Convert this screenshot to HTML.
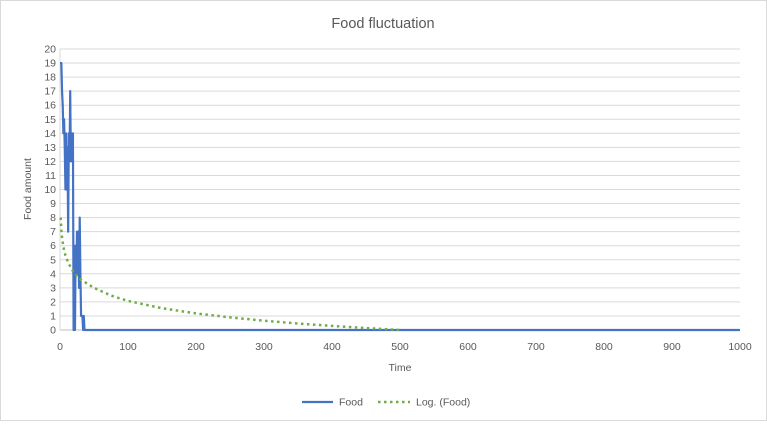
<!DOCTYPE html>
<html><head><meta charset="utf-8"><style>
body{margin:0;background:#fff;}
svg text{font-family:"Liberation Sans",sans-serif;fill:#595959;}
</style></head><body>
<svg id="c" width="767" height="421" viewBox="0 0 767 421">
<rect x="0.5" y="0.5" width="766" height="420" fill="#fff" stroke="#d9d9d9"/>
<text x="383" y="28" font-size="14.5" text-anchor="middle">Food fluctuation</text>
<g id="grid"></g>
<g id="ticks"></g>
<g id="series"></g>
<text x="400" y="371" font-size="10.5" text-anchor="middle">Time</text>
<text transform="translate(31,189) rotate(-90)" font-size="10.5" text-anchor="middle">Food amount</text>
<g>
<g><line x1="302" y1="402" x2="333" y2="402" stroke="#4472C4" stroke-width="2.2"/><text x="339" y="405.5" font-size="10.5">Food</text></g>
<g><line x1="378" y1="402" x2="410" y2="402" stroke="#70AD47" stroke-width="2.5" stroke-dasharray="2.5,3.5"/><text x="416" y="405.5" font-size="10.5">Log. (Food)</text></g>
</g>
</svg>
<script>
const foodTimes=[0,1,2,3,4,5,6,7,8,9,10,11,12,13,14,15,16,17,18,19,20,21,22,23,24,25,26,27,28,29,30,31,32,33,34,35,36,37,1000];
const foodValues=[19,19,19,17,16,14,15,13,10,14,10,13,7,14,12,17,12,14,12,14,0,6,0,6,4,7,4,7,3,8,4,1,1,1,0,1,0,0,0];
const trendTimes=[1,2,3,5,8,12,20,30,50,75,100,150,200,250,300,350,400,450,500];
const trendValues=[8,7.1,6.6,5.9,5.3,4.8,4.1,3.6,3.0,2.45,2.07,1.55,1.18,0.9,0.66,0.46,0.29,0.14,0.0];
const xTicks=[0,100,200,300,400,500,600,700,800,900,1000];
const yTicks=[0,1,2,3,4,5,6,7,8,9,10,11,12,13,14,15,16,17,18,19,20];
const X0=60,X1=740,Y0=330,Y1=49;
const xs=v=>X0+(v/1000)*(X1-X0);
const ys=v=>Y0-(v/20)*(Y0-Y1);
const NS="http://www.w3.org/2000/svg";
const grid=document.getElementById('grid'),ticks=document.getElementById('ticks'),series=document.getElementById('series');
function mk(t,a,p){const e=document.createElementNS(NS,t);for(const k in a)e.setAttribute(k,a[k]);p.appendChild(e);return e;}
yTicks.forEach(v=>{
 const l=mk('line',{x1:X0,x2:X1,y1:ys(v),y2:ys(v),stroke:v===0?'#bfbfbf':'#d9d9d9','stroke-width':1},grid);
 
 
 const t=mk('text',{x:X0-4,y:ys(v)+3.5,'font-size':10.5,'text-anchor':'end'},ticks);t.textContent=v;
 
 
});
mk('line',{x1:X0,x2:X0,y1:Y1,y2:Y0,stroke:'#d9d9d9'},grid);
xTicks.forEach(v=>{
 const t=mk('text',{x:xs(v),y:Y0+20,'font-size':10.5,'text-anchor':'middle'},ticks);t.textContent=v;
 
 
});
const fp=mk('polyline',{points:foodTimes.map((t,i)=>xs(t)+','+ys(foodValues[i])).join(' '),fill:'none',stroke:'#4472C4','stroke-width':2.2,'stroke-linejoin':'round'},series);


const tp=mk('polyline',{points:trendTimes.map((t,i)=>xs(t)+','+ys(trendValues[i])).join(' '),fill:'none',stroke:'#70AD47','stroke-width':2.5,'stroke-dasharray':'2.5,3.5'},series);


</script>
</body></html>
